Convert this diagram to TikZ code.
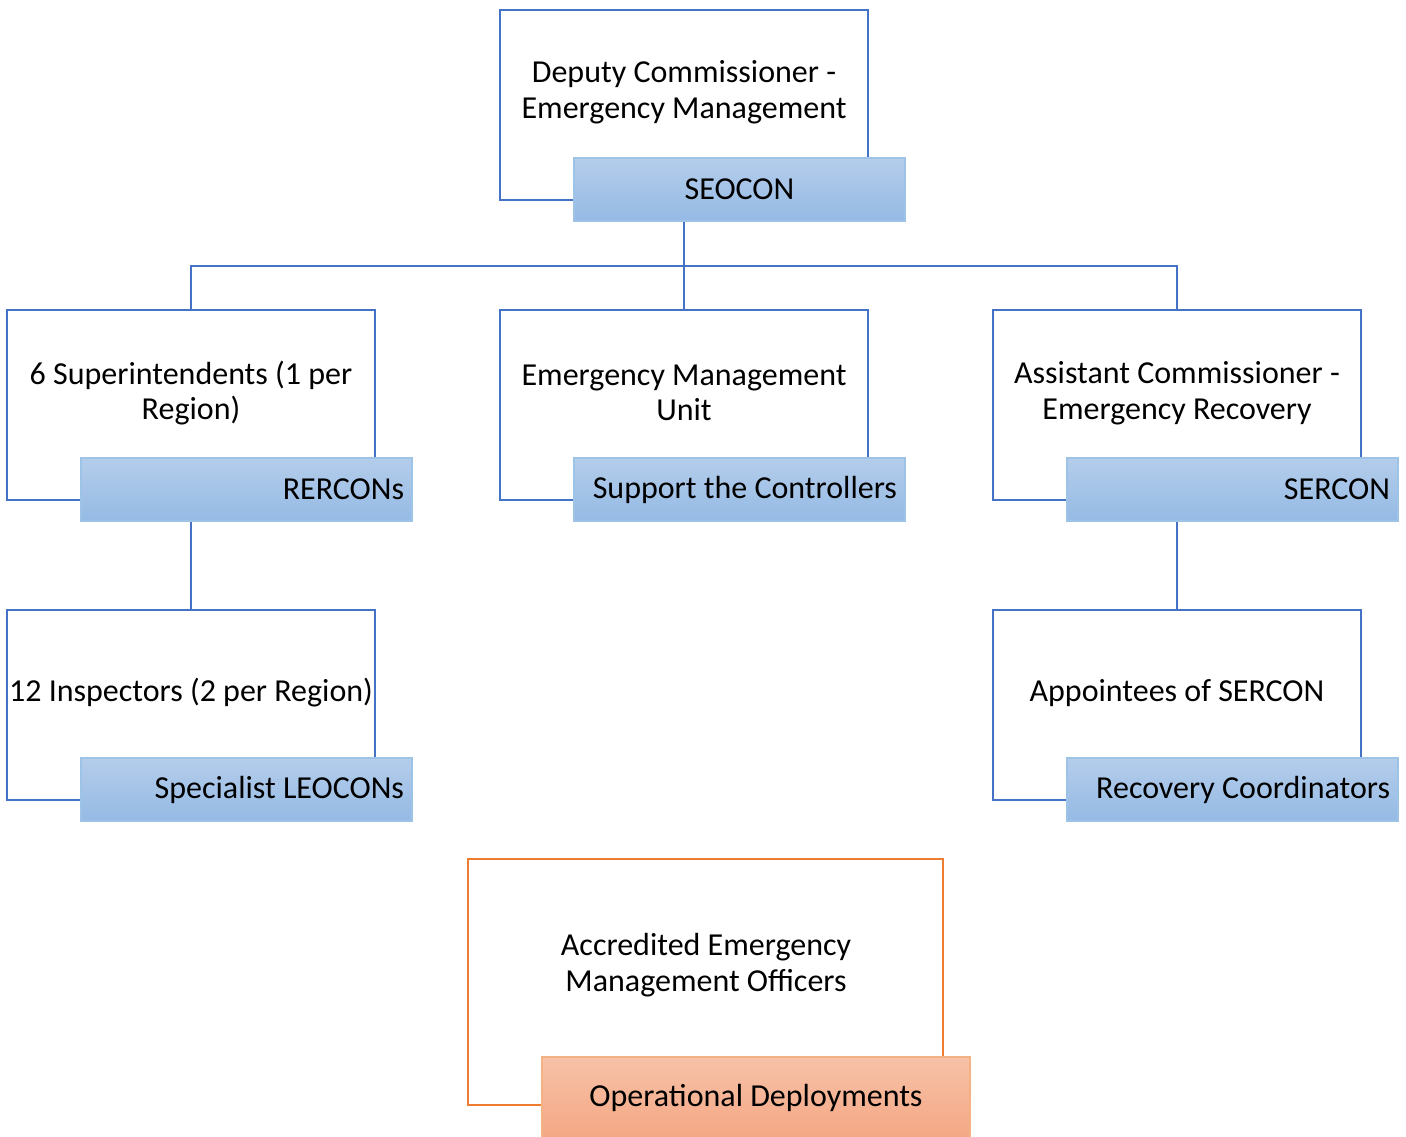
\documentclass[tikz,border=0pt]{standalone}
\usepackage{fontspec}
\setmainfont{Carlito}
\usetikzlibrary{positioning}

\definecolor{boxblue}{HTML}{4472C4}
\definecolor{tabline}{HTML}{9DC3E6}
\definecolor{tabtop}{HTML}{B4CDEB}
\definecolor{tabbot}{HTML}{95BAE4}
\definecolor{boxorange}{HTML}{ED7D31}
\definecolor{otabline}{HTML}{F4B183}
\definecolor{otabtop}{HTML}{F7C2A8}
\definecolor{otabbot}{HTML}{F4A784}

\newcommand{\rtab}[1]{\makebox[315pt][r]{#1}}

\begin{document}
\begin{tikzpicture}[x=1pt, y=-1pt,
    font=\fontsize{32}{35.5}\selectfont,
    unitbox/.style={draw=boxblue, line width=2.6pt, minimum width=368pt, minimum height=190pt, inner sep=0pt},
    unittext/.style={align=center, inner sep=0pt},
    tab/.style={draw=tabline, line width=1.3pt, top color=tabtop, bottom color=tabbot,
      minimum width=331pt, minimum height=63pt, inner sep=0pt},
    link/.style={draw=boxblue, line width=2.6pt}]
  \useasboundingbox (0,0) rectangle (1406,1137);

  % top
  \node[unitbox] (dc) at (684,105) {};
  \node[unittext] (dc-t) at (684,92) {Deputy Commissioner -\\Emergency Management};
  \node[tab] (seocon) at (739.5,189.5) {SEOCON};

  % second row
  \node[unitbox] (supt) at (191,405) {};
  \node[unittext] (supt-t) at (191,393) {6 Superintendents (1 per\\Region)};
  \node[tab] (rercons) at (246.5,489.5) {\rtab{RERCONs}};

  \node[unitbox] (emu) at (684,405) {};
  \node[unittext] (emu-t) at (684,393) {Emergency Management\\Unit};
  \node[tab] (support) at (739.5,489.5) {\rtab{Support the Controllers}};

  \node[unitbox] (acer) at (1177,405) {};
  \node[unittext] (acer-t) at (1177,393) {Assistant Commissioner -\\Emergency Recovery};
  \node[tab] (sercon) at (1232.5,489.5) {\rtab{SERCON}};

  % third row
  \node[unitbox] (insp) at (191,705) {};
  \node[unittext] (insp-t) at (191,693) {12 Inspectors (2 per Region)};
  \node[tab] (leocons) at (246.5,789.5) {\rtab{Specialist LEOCONs}};

  \node[unitbox] (appt) at (1177,705) {};
  \node[unittext] (appt-t) at (1177,693) {Appointees of SERCON};
  \node[tab] (recov) at (1232.5,789.5) {\rtab{Recovery Coordinators}};

  % officers
  \node[draw=boxorange, line width=2.6pt, minimum width=475pt, minimum height=246pt, inner sep=0pt] (aemo) at (705.5,982) {};
  \node[unittext] (aemo-t) at (706,965) {Accredited Emergency\\Management Officers};
  \node[tab, draw=otabline, top color=otabtop, bottom color=otabbot,
    minimum width=428pt, minimum height=81pt] (deploy) at (756,1097.5) {Operational Deployments};

  % connectors
  \coordinate (hub) at (684,266);
  \draw[link] (dc.center |- seocon.south) -- (hub);
  \draw[link] (supt.north) |- (hub) -| (acer.north);
  \draw[link] (hub) -- (emu.north);
  \draw[link] (supt.center |- rercons.south) -- (insp.north);
  \draw[link] (acer.center |- sercon.south) -- (appt.north);
\end{tikzpicture}
\end{document}
